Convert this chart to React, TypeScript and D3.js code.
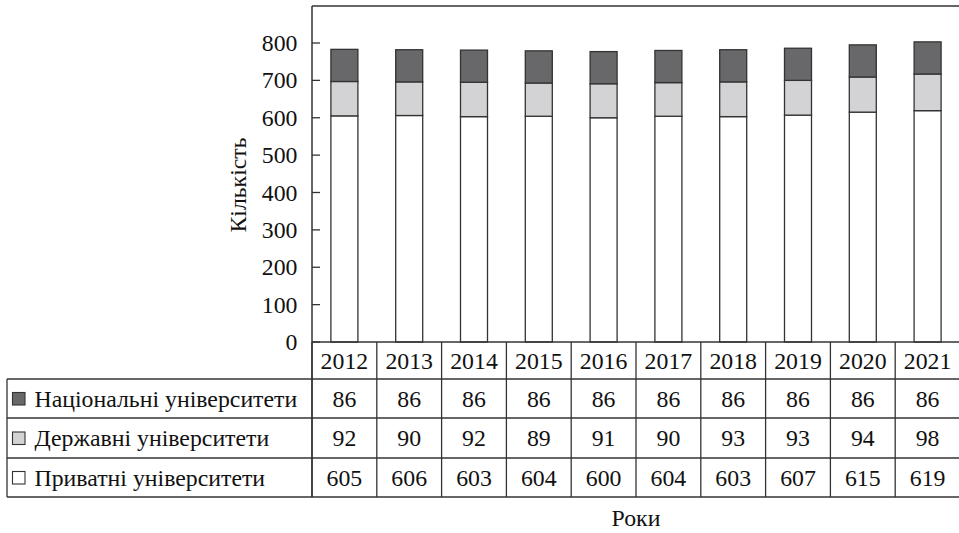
import React from "react";
import * as d3 from "d3";

const years = ["2012", "2013", "2014", "2015", "2016", "2017", "2018", "2019", "2020", "2021"];
const national = [86, 86, 86, 86, 86, 86, 86, 86, 86, 86];
const stateU = [92, 90, 92, 89, 91, 90, 93, 93, 94, 98];
const privateU = [605, 606, 603, 604, 600, 604, 603, 607, 615, 619];
const seriesNames = ["Національні університети", "Державні університети", "Приватні університети"];
const seriesColors = ["#68686b", "#d3d3d5", "#ffffff"];
const yTicks = [0, 100, 200, 300, 400, 500, 600, 700, 800];

const W = 959;
const H = 533;
const left = 312;
const right = 960;
const top = 6;
const y0 = 342;
const rowEdges = [342, 379, 418, 458, 497];
const stroke = "#333";
const fs = 23.8;

function T(props: any) {
  const { children, ...rest } = props;
  return (
    <text fontSize={fs} fill="#111" style={{ fontFamily: "Liberation Serif" }} {...rest}>
      {children}
    </text>
  );
}

export default function App() {
  const x = d3.scaleBand<string>().domain(years).range([left, right]).paddingInner(0).paddingOuter(0);
  const y = d3.scaleLinear().domain([0, 800]).range([y0, 43]);
  const barW = 27;

  const stackData = years.map((yr, i) => ({ year: yr, p: privateU[i], s: stateU[i], n: national[i] }));
  const stack = d3.stack<any>().keys(["p", "s", "n"])(stackData);
  const fills: Record<string, string> = { p: seriesColors[2], s: seriesColors[1], n: seriesColors[0] };

  const rows = [national, stateU, privateU];

  return (
    <svg width={W} height={H} style={{ position: "absolute", left: 0, top: 0, background: "#fff" }}>
      <rect x={0} y={0} width={W} height={H} fill="#fff" />
      {stack.map((layer) =>
        layer.map((d, i) => (
          <rect
            key={layer.key + i}
            x={(x(years[i]) as number) + x.bandwidth() / 2 - barW / 2}
            y={y(d[1])}
            width={barW}
            height={y(d[0]) - y(d[1])}
            fill={fills[layer.key]}
            stroke={stroke}
            strokeWidth={1.3}
          />
        ))
      )}
      <line x1={left} x2={right} y1={top} y2={top} stroke={stroke} strokeWidth={1.5} />
      <line x1={left} x2={left} y1={top} y2={rowEdges[4]} stroke={stroke} strokeWidth={1.5} />
      {yTicks.map((t) => (
        <g key={t}>
          <line x1={left} x2={left + 8} y1={y(t)} y2={y(t)} stroke={stroke} strokeWidth={1.3} />
          <T x={297.5} y={y(t) + 8} textAnchor="end">
            {t}
          </T>
        </g>
      ))}
      <line x1={left} x2={right} y1={rowEdges[0]} y2={rowEdges[0]} stroke={stroke} strokeWidth={1.5} />
      {rowEdges.slice(1).map((r) => (
        <line key={r} x1={7} x2={right} y1={r} y2={r} stroke={stroke} strokeWidth={1.3} />
      ))}
      <line x1={7} x2={7} y1={rowEdges[1]} y2={rowEdges[4]} stroke={stroke} strokeWidth={1.3} />
      {years.map((yr) => (
        <line key={"v" + yr} x1={x(yr) as number} x2={x(yr) as number} y1={rowEdges[0]} y2={rowEdges[4]} stroke={stroke} strokeWidth={1.3} />
      ))}
      {years.map((yr) => (
        <T key={"yl" + yr} x={(x(yr) as number) + x.bandwidth() / 2} y={(rowEdges[0] + rowEdges[1]) / 2 + 8} textAnchor="middle">
          {yr}
        </T>
      ))}
      {rows.map((vals, ri) => {
        const cy = (rowEdges[ri + 1] + rowEdges[ri + 2]) / 2;
        return (
          <g key={"r" + ri}>
            <rect x={12.5} y={cy - 6} width={12.5} height={12.5} fill={seriesColors[ri]} stroke={stroke} strokeWidth={1.1} />
            <T x={34.5} y={cy + 8}>
              {seriesNames[ri]}
            </T>
            {vals.map((v, i) => (
              <T key={i} x={(x(years[i]) as number) + x.bandwidth() / 2} y={cy + 8} textAnchor="middle">
                {v}
              </T>
            ))}
          </g>
        );
      })}
      <T transform="translate(246, 185) rotate(-90)" textAnchor="middle">
        Кількість
      </T>
      <T x={(left + right) / 2} y={526} textAnchor="middle">
        Роки
      </T>
    </svg>
  );
}
